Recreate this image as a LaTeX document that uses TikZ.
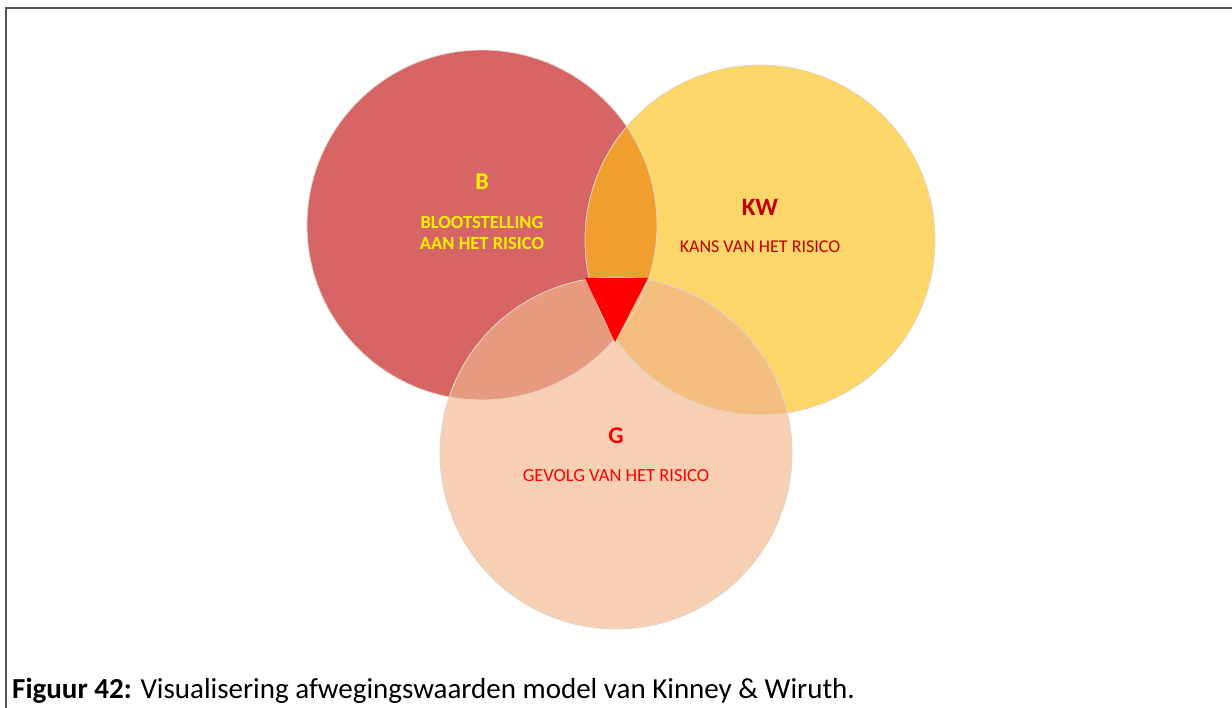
\documentclass[tikz,border=0pt]{standalone}
\usepackage{fontspec}
\setmainfont{Carlito}
\definecolor{cB}{RGB}{215,101,101}
\definecolor{cK}{RGB}{252,214,104}
\definecolor{cG}{RGB}{247,208,180}
\definecolor{cBK}{RGB}{240,158,46}
\definecolor{cBG}{RGB}{232,154,126}
\definecolor{cKG}{RGB}{244,190,126}
\definecolor{yel}{RGB}{255,240,0}
\definecolor{dred}{RGB}{192,0,0}
\definecolor{frame}{RGB}{85,85,85}
\definecolor{edge}{RGB}{225,215,205}
\tikzset{
  circ/.style={draw=edge, line width=0.8pt},
  lbl/.style={inner sep=0pt, anchor=center},
}
\newcommand{\circB}{(482,225) circle[radius=175]}
\newcommand{\circK}{(760,240) circle[radius=175]}
\newcommand{\circG}{(616,453) circle[radius=176]}
\begin{document}
\begin{tikzpicture}[x=1pt,y=-1pt]
\useasboundingbox (0,0) rectangle (1232,708);
% circles
\fill[cB] \circB;
\fill[cK] \circK;
\fill[cG] \circG;
\begin{scope}
  \clip \circB;
  \fill[cBK] \circK;
\end{scope}
\begin{scope}
  \clip \circB;
  \fill[cBG] \circG;
\end{scope}
\begin{scope}
  \clip \circK;
  \fill[cKG] \circG;
\end{scope}
\draw[circ] \circB;
\draw[circ] \circK;
\draw[circ] \circG;
% triangle
\coordinate (t1) at (585,278);
\coordinate (t2) at (648,278);
\coordinate (t3) at (615,342);
\fill[red] (t1) -- (t2) -- (t3) -- cycle;
% labels
\node[lbl, text=yel, font=\fontsize{24}{28}\selectfont\bfseries] (lB) at (482,182) {B};
\node[lbl, text=yel, font=\fontsize{18.5}{21}\selectfont\bfseries, align=center] (lBt) at (482,233) {BLOOTSTELLING\\AAN HET RISICO};
\node[lbl, text=dred, font=\fontsize{25}{28}\selectfont\bfseries] (lK) at (760,207) {KW};
\node[lbl, text=dred, font=\fontsize{18}{21}\selectfont] (lKt) at (760,247) {KANS VAN HET RISICO};
\node[lbl, text=red, font=\fontsize{24}{28}\selectfont\bfseries] (lG) at (616,436) {G};
\node[lbl, text=red, font=\fontsize{18.5}{21}\selectfont] (lGt) at (616,476) {GEVOLG VAN HET RISICO};
% frame
\draw[frame, line width=2pt] (6,708) -- (6,8) -- (1232,8);
% caption
\node[inner sep=0pt, anchor=base west, font=\fontsize{29}{33}\selectfont] (cap) at (12,698) {\textbf{Figuur 42:} Visualisering afwegingswaarden model van Kinney \& Wiruth.};
\end{tikzpicture}
\end{document}
